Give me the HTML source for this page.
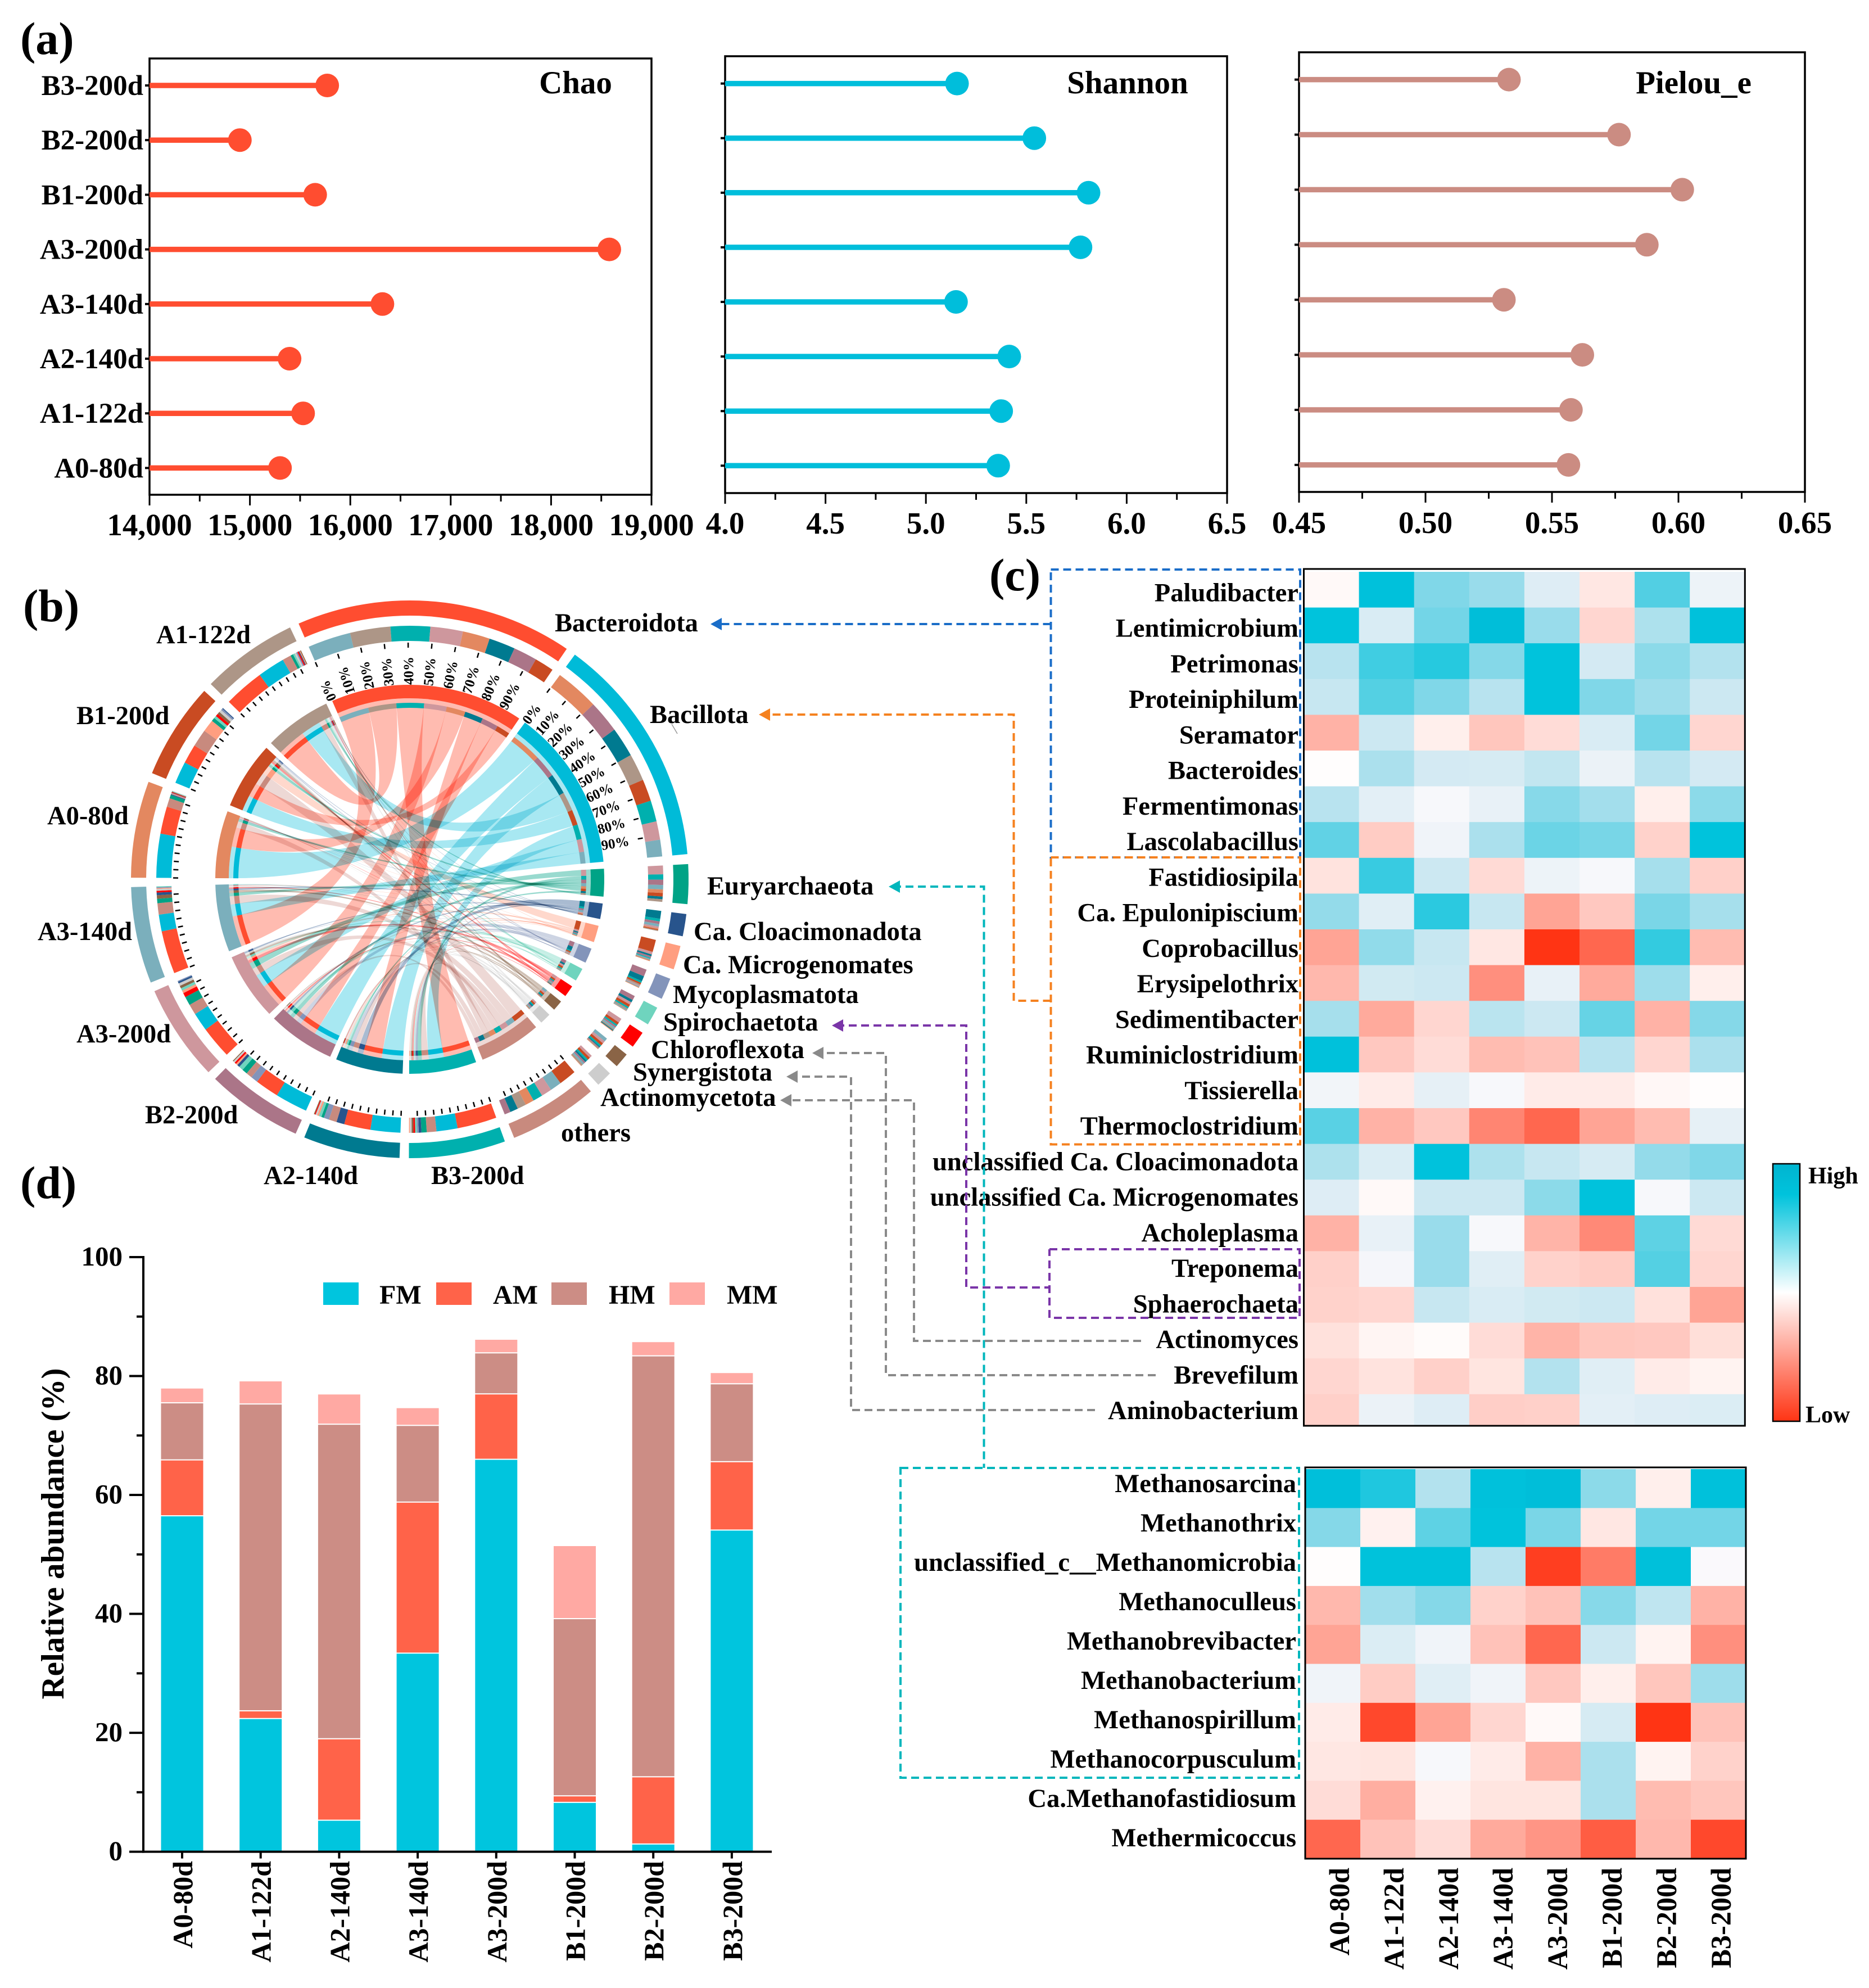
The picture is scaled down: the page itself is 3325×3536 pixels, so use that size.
<!DOCTYPE html>
<html lang="en">
<head>
<meta charset="utf-8">
<title>Microbial community figure</title>
<style>
html,body{margin:0;padding:0;background:#fff;}
svg{display:block;font-family:"Liberation Serif",serif;font-weight:bold;}
.rib{mix-blend-mode:multiply;}
</style>
</head>
<body>
<svg id="fig" xmlns="http://www.w3.org/2000/svg" width="3325" height="3536" viewBox="0 0 3325 3536">
  <rect x="0" y="0" width="3325" height="3536" fill="#fff"/>
  <defs>
    <linearGradient id="cbar" x1="0" y1="0" x2="0" y2="1">
      <stop offset="0" stop-color="#00B4D0"/>
      <stop offset="0.12" stop-color="#00C3DC"/>
      <stop offset="0.5" stop-color="#ffffff"/>
      <stop offset="1" stop-color="#FF3414"/>
    </linearGradient>
    <clipPath id="topClip"><rect x="2319" y="1012" width="786" height="1524"/></clipPath>
  </defs>
  <g id="panelA"></g>
  <g id="panelB"></g>
  <g id="panelC"></g>
  <g id="panelD"></g>

  <g id="connectors" fill="none" stroke-width="4" stroke-dasharray="14 8">
    <rect x="1869.5" y="1013" width="443.5" height="512" stroke="#1A6DC8"/>
    <polyline points="1869.5,1110 1272,1110" stroke="#1A6DC8"/>
    <rect x="1869.5" y="1525" width="443.5" height="510.5" stroke="#F5811F"/>
    <polyline points="1869.5,1780 1803.5,1780 1803.5,1271 1358,1271" stroke="#F5811F"/>
    <rect x="1602" y="2611" width="709" height="551" stroke="#00B6BC"/>
    <polyline points="1589,1577 1750.5,1577 1750.5,2611" stroke="#00B6BC"/>
    <polyline points="1867,2222 2312,2222 2312,2344 1867,2344 1867,2222" stroke="#7A35A8"/>
    <polyline points="1488,1824 1719,1824 1719,2290 1867,2290" stroke="#7A35A8"/>
    <polyline points="2030,2385 1626,2385 1626,1957 1396,1957" stroke="#8a8a8a"/>
    <polyline points="2056,2446 1576,2446 1576,1873 1453,1873" stroke="#8a8a8a"/>
    <polyline points="1948,2508 1514,2508 1514,1915 1407,1915" stroke="#8a8a8a"/>
  </g>
  <g id="arrowheads">
    <polygon points="1264,1110 1284,1099 1284,1121" fill="#1A6DC8"/>
    <polygon points="1350,1271 1370,1260 1370,1282" fill="#F5811F"/>
    <polygon points="1581,1577 1601,1566 1601,1588" fill="#00B6BC"/>
    <polygon points="1480,1824 1500,1813 1500,1835" fill="#7A35A8"/>
    <polygon points="1388,1957 1408,1946 1408,1968" fill="#8a8a8a"/>
    <polygon points="1445,1873 1465,1862 1465,1884" fill="#8a8a8a"/>
    <polygon points="1399,1915 1419,1904 1419,1926" fill="#8a8a8a"/>
  </g>
  <line x1="1195" y1="1288" x2="1205" y2="1305" stroke="#999" stroke-width="1.5"/>

  <text x="36" y="96" font-size="82">(a)</text>
  <text x="41" y="1105" font-size="82">(b)</text>
  <text x="1760" y="1050" font-size="82">(c)</text>
  <text x="36" y="2131" font-size="82">(d)</text>
</svg>

<script>
/* ---------- panel (a) data ---------- */
const lollipopCategories = ['B3-200d','B2-200d','B1-200d','A3-200d','A3-140d','A2-140d','A1-122d','A0-80d'];
const chaoValues    = [15770,14900,15650,18580,16320,15395,15530,15300];
const shannonValues = [5.155,5.54,5.81,5.77,5.15,5.415,5.375,5.36];
const pielouValues  = [0.533,0.5765,0.6015,0.5875,0.531,0.562,0.5575,0.5565];
const chaoTicks     = [14000,15000,16000,17000,18000,19000];
const chaoTickLabels = ['14,000','15,000','16,000','17,000','18,000','19,000'];
const shannonTicks  = [4.0,4.5,5.0,5.5,6.0,6.5];
const shannonTickLabels = ['4.0','4.5','5.0','5.5','6.0','6.5'];
const pielouTicks   = [0.45,0.50,0.55,0.60,0.65];
const pielouTickLabels = ['0.45','0.50','0.55','0.60','0.65'];

/* ---------- panel (b) data ---------- */
const chordPhyla = ['Bacteroidota','Bacillota','Euryarchaeota','Ca. Cloacimonadota','Ca. Microgenomates','Mycoplasmatota','Spirochaetota','Chloroflexota','Synergistota','Actinomycetota','others'];
const chordPhylaColors = ['#FF4D30','#00BBD8','#00A386','#28548C','#FF9E80','#8394BA','#6FD4BE','#FF0000','#8A6446','#CDCDCD','#C88A7E'];
const chordSamples = ['B3-200d','A2-140d','B2-200d','A3-200d','A3-140d','A0-80d','B1-200d','A1-122d'];
const chordSampleColors = ['#00B0AE','#007A90','#AB7588','#CE979D','#7BAFBC','#E38860','#C94B22','#AD9687'];
const flowBacteroidota = [45,30,27,37,49,31,22,46];
const flowBacillota    = [24,34,37,21,19,50,25,31];
const flowEuryarchaeota= [6,3,6,10,5,4,4,3];
const flowCloacimonadota=[3,9,3,2,3,1,1,1];
const flowMicrogenomates=[1,2,2,3,1,0.8,14,1];
const flowMycoplasmatota=[2,6,8,1,1,0.8,2,1.5];
const flowSpirochaetota= [2,3,5,3,1,0.5,3,2];
const flowChloroflexota= [2,1,2,5,2,0.8,3,1.5];
const flowSynergistota = [2,1,1,3,4,0.6,3,1];
const flowActinomycetota=[2,2,2,3,2,0.5,3,2];
const flowOthers       = [11,9,7,12,13,10,20,10];
const chordFlows = [flowBacteroidota,flowBacillota,flowEuryarchaeota,flowCloacimonadota,flowMicrogenomates,flowMycoplasmatota,flowSpirochaetota,flowChloroflexota,flowSynergistota,flowActinomycetota,flowOthers];
const percentTickLabels = ['0%','10%','20%','30%','40%','50%','60%','70%','80%','90%'];

/* ---------- panel (c) data ---------- */
const heatSamples = ['A0-80d','A1-122d','A2-140d','A3-140d','A3-200d','B1-200d','B2-200d','B3-200d'];
const topGenera = ['Paludibacter','Lentimicrobium','Petrimonas','Proteiniphilum','Seramator','Bacteroides','Fermentimonas','Lascolabacillus','Fastidiosipila','Ca. Epulonipiscium','Coprobacillus','Erysipelothrix','Sedimentibacter','Ruminiclostridium','Tissierella','Thermoclostridium','unclassified Ca. Cloacimonadota','unclassified Ca. Microgenomates','Acholeplasma','Treponema','Sphaerochaeta','Actinomyces','Brevefilum','Aminobacterium'];
const topHeatValues = [
 [-0.03,1.05,0.5,0.4,0.13,-0.12,0.68,0.07],
 [1,0.15,0.55,1.15,0.4,-0.2,0.32,1.05],
 [0.28,0.75,0.85,0.48,1,0.17,0.45,0.3],
 [0.22,0.67,0.5,0.28,1,0.5,0.38,0.2],
 [-0.38,0.2,-0.08,-0.28,-0.17,0.15,0.55,-0.2],
 [-0.01,0.33,0.17,0.16,0.24,0.08,0.28,0.17],
 [0.28,0.11,0.03,0.09,0.47,0.36,-0.08,0.45],
 [0.62,-0.25,0.06,0.33,0.58,0.53,-0.22,1],
 [-0.14,0.78,0.2,-0.18,0.07,0.03,0.35,-0.23],
 [0.42,0.12,0.83,0.22,-0.45,-0.27,0.52,0.35],
 [-0.45,0.43,0.22,-0.12,-1,-0.75,0.8,-0.33],
 [-0.35,0.18,0.2,-0.55,0.09,-0.42,0.38,-0.08],
 [0.35,-0.42,-0.2,0.27,0.2,0.6,-0.38,0.48],
 [1.05,-0.27,-0.17,-0.33,-0.3,0.28,-0.2,0.33],
 [0.05,-0.1,0.1,0.03,-0.1,-0.1,-0.04,-0.01],
 [0.65,-0.38,-0.27,-0.6,-0.75,-0.45,-0.33,0.1],
 [0.32,0.14,1.02,0.32,0.22,0.16,0.42,0.5],
 [0.13,-0.03,0.2,0.2,0.45,1.02,0.03,0.2],
 [-0.38,0.09,0.4,0.03,-0.37,-0.58,0.63,-0.18],
 [-0.23,0.04,0.4,0.12,-0.22,-0.25,0.67,-0.2],
 [-0.22,-0.2,0.22,0.15,0.18,0.2,-0.15,-0.45],
 [-0.15,-0.05,-0.02,-0.17,-0.37,-0.28,-0.27,-0.16],
 [-0.2,-0.14,-0.23,-0.13,0.3,0.12,-0.1,-0.06],
 [-0.23,0.08,0.13,-0.24,-0.23,0.11,0.13,0.14]
];
const bottomGenera = ['Methanosarcina','Methanothrix','unclassified_c__Methanomicrobia','Methanoculleus','Methanobrevibacter','Methanobacterium','Methanospirillum','Methanocorpusculum','Ca.Methanofastidiosum','Methermicoccus'];
const bottomHeatValues = [
 [1.1,0.88,0.3,1.05,1.15,0.45,-0.08,1.05],
 [0.48,-0.07,0.63,1,0.52,-0.12,0.55,0.55],
 [-0.01,1.03,1.03,0.28,-0.95,-0.65,1.08,0.02],
 [-0.35,0.37,0.48,-0.22,-0.3,0.47,0.25,-0.38],
 [-0.45,0.14,0.06,-0.3,-0.75,0.2,-0.06,-0.55],
 [0.06,-0.25,0.12,0.06,-0.27,-0.08,-0.28,0.38],
 [-0.1,-0.9,-0.45,-0.2,-0.03,0.16,-1,-0.3],
 [-0.12,-0.13,0.03,-0.1,-0.38,0.33,-0.06,-0.22],
 [-0.17,-0.4,-0.07,-0.13,-0.13,0.33,-0.33,-0.28],
 [-0.75,-0.3,-0.17,-0.42,-0.52,-0.8,-0.35,-0.9]
];

/* ---------- panel (d) data ---------- */
const barCategories = ['A0-80d','A1-122d','A2-140d','A3-140d','A3-200d','B1-200d','B2-200d','B3-200d'];
const barFM = [56.5,22.4,5.3,33.4,66,8.3,1.3,54.1];
const barAM = [9.4,1.3,13.7,25.4,11,1.1,11.3,11.5];
const barHM = [9.6,51.6,52.9,12.9,6.9,29.8,70.8,13.1];
const barMM = [2.4,3.8,5.0,2.9,2.2,12.2,2.3,1.8];
const barSeriesNames = ['FM','AM','HM','MM'];
const barSeriesColors = ['#00C5DE','#FF6349','#CC8D85','#FFA9A3'];
const barYTicks = [0,20,40,60,80,100];

/* ---------- helpers ---------- */
const NS = 'http://www.w3.org/2000/svg';
function mk(tag, parent, props) {
  const e = document.createElementNS(NS, tag);
  for (const k in props) e.setAttribute(k, props[k]);
  parent.appendChild(e);
  return e;
}
function linear(d0, d1, r0, r1) { return v => r0 + (v - d0) * (r1 - r0) / (d1 - d0); }

/* ---------- panel (a) ---------- */
function drawLollipop(cfg) {
  const panel = document.getElementById('panelA');
  const x = linear(cfg.domain[0], cfg.domain[1], cfg.left, cfg.right);
  const y = i => cfg.firstY + i * cfg.stepY;
  const frame = mk('rect', panel, {x: cfg.left, y: cfg.top, width: cfg.right - cfg.left, height: cfg.bottom - cfg.top, fill: 'none', stroke: '#000', 'stroke-width': 3.5});
  
  
  const title = mk('text', panel, {x: cfg.titleX, y: 166, 'font-size': 57, 'text-anchor': 'middle', 'font-weight': 'bold'});
  title.textContent = cfg.title;
  
  
  cfg.ticks.forEach((t, i) => {
    const tick = mk('line', panel, {x1: x(t), x2: x(t), y1: cfg.bottom, y2: cfg.bottom + 19, stroke: '#000', 'stroke-width': 3});
    
    
    const lab = mk('text', panel, {x: x(t), y: cfg.labelY, 'font-size': 55, 'text-anchor': 'middle'});
    lab.textContent = cfg.tickLabels[i];
    
    
    if (i < cfg.ticks.length - 1) {
      const mx = x((t + cfg.ticks[i + 1]) / 2);
      const minor = mk('line', panel, {x1: mx, x2: mx, y1: cfg.bottom, y2: cfg.bottom + 12, stroke: '#000', 'stroke-width': 3});
      
      
    }
  });
  cfg.values.forEach((v, i) => {
    const tick = mk('line', panel, {x1: cfg.left - 8, x2: cfg.left, y1: y(i), y2: y(i), stroke: '#000', 'stroke-width': 4});
    
    
    const stem = mk('line', panel, {x1: cfg.left, x2: x(v), y1: y(i), y2: y(i), stroke: cfg.color, 'stroke-width': 9.5});
    
    
    const dot = mk('circle', panel, {cx: x(v), cy: y(i), r: 21, fill: cfg.color});
    
    
    if (cfg.showCategories) {
      const lab = mk('text', panel, {x: 255, y: y(i) + 17, 'font-size': 51, 'text-anchor': 'end'});
      lab.textContent = lollipopCategories[i];
      
      
    }
  });
}
drawLollipop({name:'chao',title:'Chao',titleX:1024,left:266,right:1159,top:104,bottom:880,firstY:152,stepY:97.2,domain:[14000,19000],ticks:chaoTicks,tickLabels:chaoTickLabels,values:chaoValues,color:'#FF4D30',labelY:952,showCategories:true});
drawLollipop({name:'shannon',title:'Shannon',titleX:2006,left:1290,right:2183,top:100,bottom:877,firstY:148.6,stepY:97.1,domain:[4,6.5],ticks:shannonTicks,tickLabels:shannonTickLabels,values:shannonValues,color:'#00BEDB',labelY:949,showCategories:false});
drawLollipop({name:'pielou',title:'Pielou_e',titleX:3013,left:2311,right:3211,top:93,bottom:875,firstY:141.6,stepY:97.9,domain:[0.45,0.65],ticks:pielouTicks,tickLabels:pielouTickLabels,values:pielouValues,color:'#CB8C82',labelY:948,showCategories:false});

/* ---------- panel (b) ---------- */
(function () {
  const panel = document.getElementById('panelB');
  const cx = 729, cy = 1564;
  const phylumGap = 2.05, sampleGap = 1.93, startAngle = -23.5;
  const sectors = [];
  chordPhyla.forEach((n, i) => sectors.push({kind:'phylum', idx:i, name:n, color:chordPhylaColors[i], total:chordFlows[i].reduce((a,b)=>a+b,0)}));
  chordSamples.forEach((n, j) => sectors.push({kind:'sample', idx:j, name:n, color:chordSampleColors[j], total:chordFlows.reduce((a,r)=>a+r[j],0)}));
  const grand = sectors.reduce((a,s)=>a+s.total,0);
  const unit = (360 - phylumGap * chordPhyla.length - sampleGap * chordSamples.length) / grand;
  let ang = startAngle;
  sectors.forEach(s => {
    s.a0 = ang;
    s.a1 = ang + s.total * unit;
    ang = s.a1 + (s.kind === 'phylum' ? phylumGap : sampleGap);
  });

  const pt = (r, a) => {
    const t = a * Math.PI / 180;
    return [cx + r * Math.sin(t), cy - r * Math.cos(t)];
  };
  const ring = (r0, r1, a0, a1) => {
    const large = (a1 - a0) > 180 ? 1 : 0;
    const p1 = pt(r1, a0), p2 = pt(r1, a1), p3 = pt(r0, a1), p4 = pt(r0, a0);
    return `M${p1[0]} ${p1[1]}A${r1} ${r1} 0 ${large} 1 ${p2[0]} ${p2[1]}L${p3[0]} ${p3[1]}A${r0} ${r0} 0 ${large} 0 ${p4[0]} ${p4[1]}Z`;
  };

  /* per-sector segments, largest partner first (clockwise) */
  sectors.forEach(s => {
    const parts = [];
    if (s.kind === 'phylum') chordSamples.forEach((n, j) => parts.push({partner:j, v:chordFlows[s.idx][j], color:chordSampleColors[j]}));
    else chordPhyla.forEach((n, i) => parts.push({partner:i, v:chordFlows[i][s.idx], color:chordPhylaColors[i]}));
    parts.sort((p, q) => q.v - p.v);
    let a = s.a0;
    parts.forEach(p => { p.a0 = a; p.a1 = a + p.v * unit; a = p.a1; });
    s.parts = parts;
  });

  /* ribbons */
  const chordR = 322;
  const ribbonOrder = [1, 0, 10, 2, 3, 4, 5, 6, 7, 8, 9];
  const ribbonGroup = mk('g', panel, {style: 'isolation:auto'});
  
  
  ribbonOrder.forEach(i => {
    const ps = sectors[i];
    ps.parts.forEach(p => {
      const ss = sectors[chordPhyla.length + p.partner];
      const q = ss.parts.find(z => z.partner === i);
      const A = pt(chordR, p.a0), B = pt(chordR, p.a1), C = pt(chordR, q.a0), D = pt(chordR, q.a1);
      const d = `M${A[0]} ${A[1]}A${chordR} ${chordR} 0 0 1 ${B[0]} ${B[1]}Q${cx} ${cy} ${C[0]} ${C[1]}A${chordR} ${chordR} 0 0 1 ${D[0]} ${D[1]}Q${cx} ${cy} ${A[0]} ${A[1]}Z`;
      const rib = mk('path', ribbonGroup, {d, class: 'rib', fill: ps.color, 'fill-opacity': i === 1 ? 0.34 : (i === 0 ? 0.38 : (i === 10 ? 0.33 : 0.4))});
      
      
    });
  });

  /* rings */
  sectors.forEach(s => {
    const outer = mk('path', panel, {d: ring(469, 496, s.a0, s.a1), fill: s.color});
    
    
    const inner = mk('path', panel, {d: ring(322, 346, s.a0, s.a1), fill: s.color});
    
    
    s.parts.forEach(p => {
      const seg = mk('path', panel, {d: ring(424, 451, p.a0, p.a1), fill: p.color});
      
      
      const thin = mk('path', panel, {d: ring(305, 314, p.a0, p.a1), fill: p.color});
      
      
    });
    const hasTicks = s.kind === 'sample' || s.idx < 2 || s.idx === 10;
    if (hasTicks) {
      percentTickLabels.forEach((lab, k) => {
        const a = s.a0 + (s.a1 - s.a0) * k / 10;
        const t0 = pt(412, a), t1 = pt(421, a);
        const tick = mk('line', panel, {x1: t0[0], y1: t0[1], x2: t1[0], y2: t1[1], stroke: '#000', 'stroke-width': 2.5});
        
        
        if (s.kind === 'phylum' && s.idx < 2) {
          const tp = pt(k === 0 ? 384 : 396, a);
          const txt = mk('text', panel, {x: tp[0], y: tp[1], 'font-size': 25, 'text-anchor': 'end', dy: '0.35em', transform: `rotate(${a - 90} ${tp[0]} ${tp[1]})`});
          txt.textContent = lab;
          
          
        }
      });
    }
  });

  /* sector labels */
  const labels = [
    ['A1-122d',278,1144],['B1-200d',136,1288],['A0-80d',84,1466],['A3-140d',67,1672],
    ['A3-200d',136,1854],['B2-200d',258,1998],['A2-140d',469,2106],['B3-200d',767,2106],
    ['others',998,2030],['Bacteroidota',987,1123],['Bacillota',1156,1286],['Euryarchaeota',1258,1591],
    ['Ca. Cloacimonadota',1234,1672],['Ca. Microgenomates',1215,1731],['Mycoplasmatota',1197,1784],
    ['Spirochaetota',1180,1833],['Chloroflexota',1158,1882],['Synergistota',1126,1922],['Actinomycetota',1068,1967]
  ];
  labels.forEach(l => {
    const t = mk('text', panel, {x: l[1], y: l[2], 'font-size': 46.5});
    t.textContent = l[0];
    
    
  });
})();

/* ---------- panel (c) ---------- */
function heatColor(v) {
  if (v >= 0) {
    const r = Math.max(0, 255 * (1 - v));
    const p = Math.pow(v, 0.6);
    const g = 255 - 60 * p;
    const b = 255 - 35 * p;
    return `rgb(${r.toFixed(0)},${g.toFixed(0)},${b.toFixed(0)})`;
  }
  const u = -v;
  return `rgb(255,${(255 - 203 * u).toFixed(0)},${(255 - 235 * u).toFixed(0)})`;
}
function drawHeat(cfg) {
  const panel = document.getElementById('panelC');
  const g = mk('g', panel, cfg.clip ? {'clip-path': cfg.clip} : {});
  
  
  const colX = j => cfg.left + j * cfg.colW;
  const rowY = i => cfg.firstRow + i * cfg.rowH;
  cfg.values.forEach((row, i) => {
    row.forEach((v, j) => {
      const c = mk('rect', g, {x: colX(j), y: rowY(i), width: cfg.colW + 0.5, height: cfg.rowH + 0.5, fill: heatColor(v)});
      
      
    });
    const lab = mk('text', panel, {x: cfg.labelX, y: cfg.labelY0 + i * cfg.labelStep, 'font-size': 46.6, 'text-anchor': 'end'});
    lab.textContent = cfg.rows[i];
    
    
  });
  const fr = mk('rect', panel, {x: cfg.left, y: cfg.frameTop, width: cfg.colW * 8, height: cfg.frameBottom - cfg.frameTop, fill: 'none', stroke: '#000', 'stroke-width': 3});
  
  
}
drawHeat({name:'top-heatmap',left:2319.5,colW:98.1,firstRow:1017,rowH:63.6,values:topHeatValues,rows:topGenera,labelX:2310,labelY0:1069.5,labelStep:63.24,frameTop:1012,frameBottom:2536,clip:'url(#topClip)'});
drawHeat({name:'bottom-heatmap',left:2322,colW:98,firstRow:2613,rowH:69.3,values:bottomHeatValues,rows:bottomGenera,labelX:2306,labelY0:2654,labelStep:70,frameTop:2610,frameBottom:3306});
(function () {
  const panel = document.getElementById('panelC');
  heatSamples.forEach((n, j) => {
    const bx = 2400 + 97 * j;
    const t = mk('text', panel, {'font-size': 51, 'text-anchor': 'end', transform: `translate(${bx},3322) rotate(-90) scale(0.985,1)`});
    t.textContent = n;
    
    
  });
  const bar = mk('rect', panel, {x: 3154, y: 2070, width: 48, height: 458, fill: 'url(#cbar)', stroke: '#000', 'stroke-width': 2.5});
  
  
  const hi = mk('text', panel, {x: 3217, y: 2105, 'font-size': 42});
  hi.textContent = 'High';
  
  
  const lo = mk('text', panel, {x: 3212, y: 2530, 'font-size': 42});
  lo.textContent = 'Low';
  
  
})();

/* ---------- panel (d) ---------- */
(function () {
  const panel = document.getElementById('panelD');
  const y = linear(0, 100, 3293.6, 2236);
  const x = i => 324 + 139.7 * i;
  const series = [barFM, barAM, barHM, barMM];
  barCategories.forEach((n, i) => {
    let cum = 0;
    series.forEach((vals, s) => {
      const y1 = y(cum), y2 = y(cum + vals[i]);
      const topInset = s === series.length - 1 ? 0 : 1;
      const bottomInset = s === 0 ? 0 : 1;
      const r = mk('rect', panel, {x: x(i) - 37.5, y: y2 + topInset, width: 75, height: Math.max(0, y1 - y2 - topInset - bottomInset), fill: barSeriesColors[s]});
      
      
      cum += vals[i];
    });
    const tick = mk('line', panel, {x1: x(i), x2: x(i), y1: y(0), y2: y(0) + 12, stroke: '#000', 'stroke-width': 4});
    
    
    const bx = x(i) + 18;
    const lab = mk('text', panel, {'font-size': 50, 'text-anchor': 'end', transform: `translate(${bx},3310) rotate(-90)`});
    lab.textContent = n;
    
    
  });
  const ya = mk('line', panel, {x1: 255, x2: 255, y1: y(100) - 2, y2: y(0) + 2, stroke: '#000', 'stroke-width': 4});
  
  
  const xa = mk('line', panel, {x1: 253, x2: 1373, y1: y(0), y2: y(0), stroke: '#000', 'stroke-width': 4});
  
  
  barYTicks.forEach((t, i) => {
    const tick = mk('line', panel, {x1: 230, x2: 255, y1: y(t), y2: y(t), stroke: '#000', 'stroke-width': 4});
    
    
    const lab = mk('text', panel, {x: 218, y: y(t) + 15, 'font-size': 49, 'text-anchor': 'end'});
    lab.textContent = String(t);
    
    
    if (i < barYTicks.length - 1) {
      const my = y((t + barYTicks[i + 1]) / 2);
      const minor = mk('line', panel, {x1: 243, x2: 255, y1: my, y2: my, stroke: '#000', 'stroke-width': 4});
      
      
    }
  });
  const title = mk('text', panel, {'font-size': 57, 'text-anchor': 'middle', transform: 'translate(113,2728) rotate(-90)'});
  title.textContent = 'Relative abundance (%)';
  
  
  const swatchX = [575, 776, 981, 1191];
  const textX = [675, 877, 1083, 1293];
  barSeriesNames.forEach((n, i) => {
    const sw = mk('rect', panel, {x: swatchX[i], y: 2281, width: 63, height: 40, fill: barSeriesColors[i]});
    
    
    const t = mk('text', panel, {x: textX[i], y: 2319, 'font-size': 48});
    t.textContent = n;
    
    
  });
})();
</script>
</body>
</html>
